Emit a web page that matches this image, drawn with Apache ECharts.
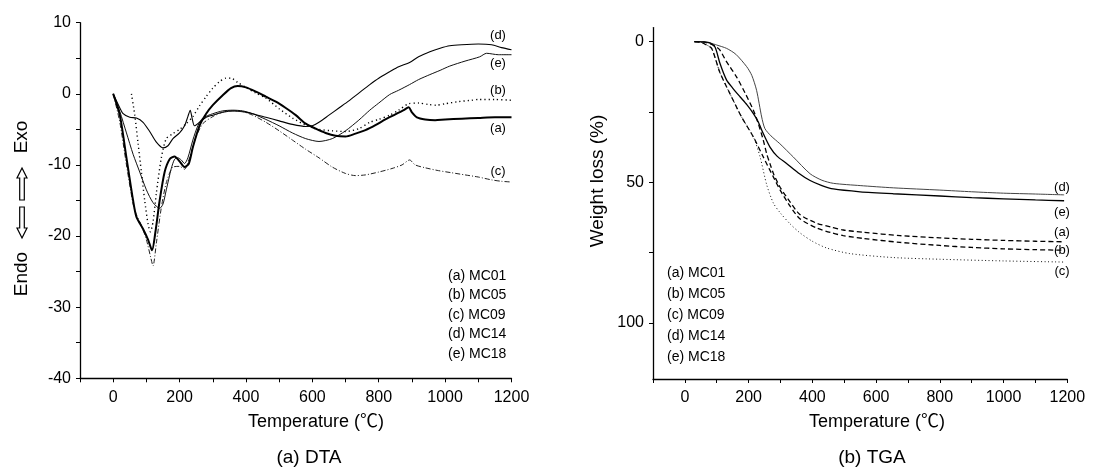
<!DOCTYPE html>
<html><head><meta charset="utf-8">
<script src="https://cdn.jsdelivr.net/npm/echarts@6/dist/echarts.min.js"></script>
<style>html,body{margin:0;padding:0;background:#fff}#c{width:1107px;height:474px}</style>
</head><body><div id="c"></div>
<script>
const FONT = '"Liberation Sans", Arial, Helvetica, "Noto Sans CJK KR", sans-serif';
const sampleNames = ['(a) MC01','(b) MC05','(c) MC09','(d) MC14','(e) MC18'];
const xTicks = [-100,0,100,200,300,400,500,600,700,800,900,1000,1100,1200];
const xTickLabels = [0,200,400,600,800,1000,1200];
const dtaYTicks = [-40,-35,-30,-25,-20,-15,-10,-5,0,5,10];
const dtaYTickLabels = [-40,-30,-20,-10,0,10];
const tgaYTicks = [0,25,50,75,100];
const tgaYTickLabels = [0,50,100];

// DTA (temperature, signal)
const dtaA = [[0,0],[20,-3],[40,-9],[60,-15],[70,-17.3],[90,-19],[105,-20.5],[117,-22],[127,-19.5],[140,-15],[155,-11],[170,-9.2],[185,-8.8],[200,-9.5],[215,-10.3],[228,-9.8],[240,-7.5],[260,-4.5],[280,-2.8],[300,-1.6],[330,-0.2],[355,0.8],[375,1.1],[400,0.9],[430,0.3],[460,-0.4],[490,-1.1],[520,-2],[550,-3],[580,-4.2],[610,-4.9],[640,-5.5],[670,-5.9],[700,-6],[730,-5.6],[760,-5.1],[790,-4.4],[820,-3.6],[850,-2.9],[875,-2.3],[890,-1.9],[900,-2.6],[915,-3.3],[940,-3.6],[970,-3.7],[1000,-3.6],[1050,-3.5],[1100,-3.4],[1150,-3.3],[1200,-3.3]];
const dtaB = [[55,0],[65,-3],[75,-7],[85,-11],[95,-15],[105,-18.3],[112,-19.4],[120,-18],[130,-14],[145,-9],[160,-6.3],[180,-5.6],[200,-5],[220,-4.2],[240,-3.2],[260,-1.7],[280,-0.4],[300,0.8],[320,1.7],[340,2.2],[355,2.2],[375,1.6],[400,0.9],[430,0.1],[460,-0.6],[500,-2.1],[540,-3.4],[580,-4.4],[620,-5],[660,-5.2],[700,-5.3],[740,-4.9],[773,-4],[800,-3.6],[833,-3],[860,-2.3],[890,-1.4],[920,-1.3],[950,-1.5],[973,-1.6],[1000,-1.4],[1040,-1.1],[1080,-0.9],[1100,-0.8],[1150,-0.8],[1200,-0.9]];
const dtaC = [[0,0],[20,-4],[40,-10],[60,-15.5],[70,-17],[85,-18.5],[100,-20.5],[113,-23],[120,-24.2],[130,-21],[145,-16],[160,-12.5],[180,-10.3],[200,-10.2],[215,-10.6],[230,-9],[250,-6],[270,-4.2],[300,-3.2],[330,-2.6],[360,-2.4],[390,-2.5],[420,-3],[460,-4],[500,-5.2],[540,-6.5],[580,-7.8],[620,-9],[660,-10.3],[700,-11.2],[730,-11.5],[760,-11.4],[800,-11],[840,-10.5],[870,-10],[893,-9.3],[910,-10],[940,-10.4],[980,-10.8],[1020,-11.1],[1060,-11.4],[1100,-11.7],[1140,-12.1],[1170,-12.3],[1200,-12.4]];
const dtaD = [[0,0],[15,-1.5],[30,-2.8],[50,-3.3],[70,-3.4],[90,-4],[110,-5.3],[130,-6.8],[150,-7.6],[165,-7.3],[180,-6.3],[200,-5.5],[215,-4.5],[225,-3.2],[232,-2.3],[238,-3.5],[245,-4.5],[260,-4],[280,-3.3],[300,-3],[330,-2.6],[360,-2.4],[390,-2.5],[420,-2.8],[460,-3.3],[500,-3.8],[540,-4.3],[580,-4.6],[600,-4.5],[620,-4],[650,-3],[680,-2],[710,-1],[740,0.1],[773,1.3],[800,2.2],[833,3.1],[860,3.8],[893,4.4],[920,5.2],[954,5.9],[985,6.4],[1014,6.75],[1050,6.9],[1100,7],[1140,6.9],[1170,6.5],[1200,6.2]];
const dtaE = [[0,0],[20,-2.5],[40,-5.5],[60,-8.5],[80,-11],[100,-13.5],[120,-15.3],[140,-16.1],[150,-15.5],[160,-13.5],[175,-10.5],[185,-9.2],[195,-9],[205,-9.3],[215,-9.8],[225,-9],[240,-6.5],[255,-4.5],[270,-3.4],[300,-2.8],[330,-2.4],[360,-2.3],[390,-2.4],[420,-2.8],[460,-3.6],[500,-4.5],[540,-5.5],[580,-6.3],[620,-6.7],[660,-6.3],[700,-5.2],[740,-3.7],[773,-2.3],[800,-1.3],[833,-0.1],[860,0.5],[893,1.3],[920,2],[954,2.7],[985,3.3],[1014,3.9],[1060,4.6],[1104,5.2],[1125,5.7],[1160,5.5],[1200,5.5]];

// TGA (temperature, weight loss %)
const tgaA = [[30,0],[60,0.2],[80,0.8],[100,2],[110,3],[130,7],[162,12.5],[190,18.5],[215,24.4],[230,29],[246,35],[257,40],[267,43.4],[280,47.5],[300,52],[330,57],[361,61.5],[414,64.6],[460,66],[497,67],[560,67.8],[675,69],[800,69.8],[900,70.3],[1000,70.7],[1100,71],[1190,71.2]];
const tgaB = [[30,0],[50,0.2],[65,1],[84,2.4],[110,11],[141,18.4],[178,26.8],[215,33.9],[246,41],[278,48.2],[300,53],[330,58.5],[361,63],[414,66.3],[460,68],[497,69],[560,70],[675,71.4],[800,72.5],[900,73.2],[1000,73.7],[1100,74],[1190,74.2]];
const tgaC = [[30,0],[50,0.2],[65,1],[84,2.4],[110,11],[141,18.4],[178,26.8],[215,33.9],[236,41],[257,51],[278,57.5],[300,61],[330,64.8],[361,68],[400,71],[445,73.4],[518,75.4],[654,76.8],[800,77.4],[1000,78],[1190,78.4]];
const tgaD = [[30,0],[60,0.1],[80,0.5],[100,1.2],[131,2.4],[160,4.5],[194,8.9],[210,12],[225,17.3],[241,26.8],[251,30.9],[270,33.5],[298,36.3],[340,41],[393,47],[430,49.3],[466,50.4],[550,51.2],[654,52],[800,52.8],[900,53.4],[1000,53.9],[1100,54.2],[1190,54.5]];
const tgaE = [[30,0],[60,0.1],[80,0.5],[95,2],[110,7.7],[131,13.7],[150,16.5],[173,19.6],[195,22.5],[215,25.6],[230,28.5],[246,32.7],[267,37.5],[290,40.8],[320,43.4],[355,46.6],[393,49.4],[430,51.2],[466,52.4],[550,53.4],[654,54.1],[800,54.9],[900,55.5],[1000,55.9],[1100,56.3],[1190,56.6]];

const axLine = {lineStyle:{color:'#000', width:1.3}, onZero:false};
const plain = v => String(v);
function xAx(gi){
  return {type:'value', gridIndex:gi, min:-100, max:1200, axisLine:axLine,
    axisTick:{show:true, customValues:xTicks, length:4, lineStyle:{color:'#000', width:1}},
    axisLabel:{customValues:xTickLabels, formatter:plain, fontSize:16, color:'#000', fontFamily:FONT, margin:11},
    splitLine:{show:false}};
}
const dtaStyles = [
  {color:'#000', width:2},
  {color:'#000', width:1.4, type:[1.2,3]},
  {color:'#222', width:1, type:[5,2,1,2]},
  {color:'#000', width:1.1},
  {color:'#111', width:1}
];
const tgaStyles = [
  {color:'#000', width:1.3, type:[5,3]},
  {color:'#000', width:1.3, type:[5,3]},
  {color:'#111', width:1, type:[1,2.5]},
  {color:'#444', width:1},
  {color:'#000', width:1.3}
];
const dtaData = [dtaA,dtaB,dtaC,dtaD,dtaE];
const tgaData = [tgaA,tgaB,tgaC,tgaD,tgaE];
const series = [];
dtaData.forEach((d,i)=>series.push({type:'line', name:sampleNames[i], xAxisIndex:0, yAxisIndex:0, data:d, showSymbol:false, smooth:0.25, lineStyle:dtaStyles[i], z:5-i}));
tgaData.forEach((d,i)=>series.push({type:'line', name:sampleNames[i]+' TGA', xAxisIndex:1, yAxisIndex:1, data:d, showSymbol:false, smooth:0.25, lineStyle:tgaStyles[i]}));

function txt(x,y,text,size,extra){
  return Object.assign({type:'text', x:x, y:y, silent:true,
    style:{text:text, fontSize:size, fontFamily:FONT, fill:'#000', align:'center', verticalAlign:'middle'}}, extra||{});
}
const graphics = [];
graphics.push(txt(316,422,'Temperature (\u2103)',18));
graphics.push(txt(309,458,'(a) DTA',19));
graphics.push(txt(877,422,'Temperature (\u2103)',18));
graphics.push(txt(872,458,'(b) TGA',19));
graphics.push(txt(22,137,'Exo',19,{rotation:Math.PI/2}));
graphics.push(txt(22,274,'Endo',19,{rotation:Math.PI/2}));
graphics.push(txt(598,181,'Weight loss (%)',19,{rotation:Math.PI/2}));
graphics.push({type:'polygon', silent:true, shape:{points:[[22,168],[27,178],[24.3,178],[24.3,200],[19.7,200],[19.7,178],[17,178]]}, style:{fill:'#fff', stroke:'#000', lineWidth:1.2}});
graphics.push({type:'polygon', silent:true, shape:{points:[[22,238],[27,228],[24.3,228],[24.3,207],[19.7,207],[19.7,228],[17,228]]}, style:{fill:'#fff', stroke:'#000', lineWidth:1.2}});
sampleNames.forEach((n,i)=>{
  graphics.push(txt(448,276+i*19.5,n,14,{style:{text:n,fontSize:14,fontFamily:FONT,fill:'#000',align:'left',verticalAlign:'middle'}}));
  graphics.push(txt(667,273.5+i*20.8,n,14,{style:{text:n,fontSize:14,fontFamily:FONT,fill:'#000',align:'left',verticalAlign:'middle'}}));
});
const dtaTags = [['(d)',35],['(e)',63],['(b)',90],['(a)',128],['(c)',171]];
dtaTags.forEach(t=>graphics.push(txt(498,t[1],t[0],13)));
const tgaTags = [['(d)',187],['(e)',212.5],['(a)',232],['(b)',250.5],['(c)',271.5]];
tgaTags.forEach(t=>graphics.push(txt(1062,t[1],t[0],13)));

const chart = echarts.init(document.getElementById('c'), null, {renderer:'canvas'});
chart.setOption({
  animation:false,
  backgroundColor:'#fff',
  grid:[
    {left:80, top:22.7, width:431.5, height:355.6, containLabel:false},
    {left:653, top:27.6, width:414.3, height:351.4, containLabel:false}
  ],
  xAxis:[xAx(0), xAx(1)],
  yAxis:[
    {type:'value', gridIndex:0, min:-40, max:10, axisLine:axLine,
     axisTick:{show:true, customValues:dtaYTicks, length:4, lineStyle:{color:'#000', width:1}},
     axisLabel:{customValues:dtaYTickLabels, formatter:plain, fontSize:16, color:'#000', fontFamily:FONT, margin:9},
     splitLine:{show:false}},
    {type:'value', gridIndex:1, min:-5, max:120, inverse:true, axisLine:axLine,
     axisTick:{show:true, customValues:tgaYTicks, length:4, lineStyle:{color:'#000', width:1}},
     axisLabel:{customValues:tgaYTickLabels, formatter:plain, fontSize:16, color:'#000', fontFamily:FONT, margin:9},
     splitLine:{show:false}}
  ],
  series:series,
  graphic:graphics
});
</script></body></html>
